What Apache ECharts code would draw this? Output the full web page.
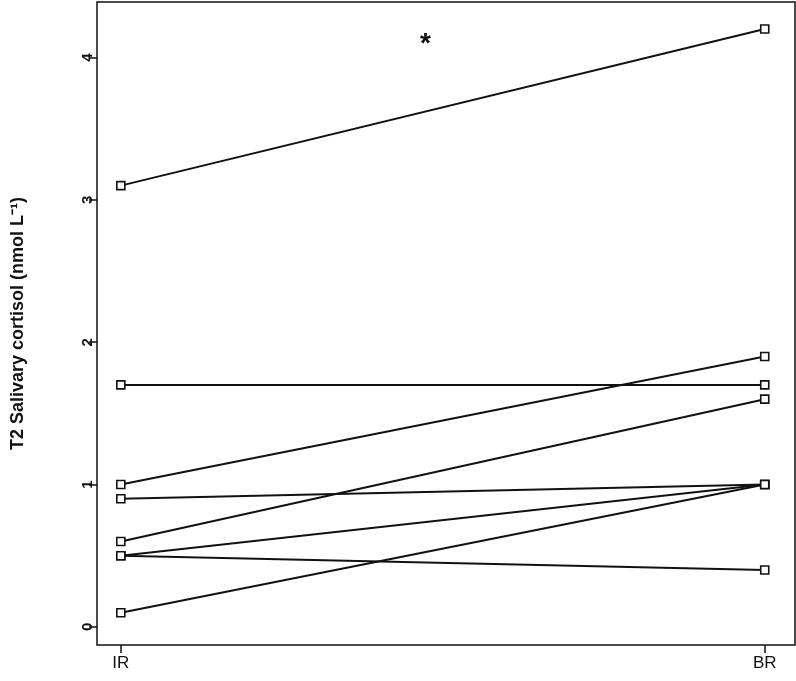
<!DOCTYPE html>
<html><head><meta charset="utf-8">
<script src="https://cdn.jsdelivr.net/npm/echarts@6/dist/echarts.min.js"></script>
<style>html,body{margin:0;padding:0;background:#fff}#c{width:796px;height:681px}</style>
</head><body><div id="c"></div>
<script>
const categories = ['IR', 'BR'];
const irValues = [3.1, 1.7, 1.0, 0.9, 0.6, 0.5, 0.5, 0.1];
const brValues = [4.2, 1.7, 1.9, 1.0, 1.6, 1.0, 0.4, 1.0];
const yTicks = [0, 1, 2, 3, 4];
const chart = echarts.init(document.getElementById('c'));
const font = 'Liberation Sans, Arial, sans-serif';
const series = irValues.map((v, i) => ({
  type: 'line', data: [[0, v], [1, brValues[i]]],
  symbol: 'rect', symbolSize: 8,
  itemStyle: { color: '#fff', borderColor: '#111', borderWidth: 1.6 },
  lineStyle: { color: '#111', width: 2 }, animation: false
}));
chart.setOption({
  animation: false,
  grid: { left: 97, right: 1, top: 2, bottom: 36, show: true, borderColor: '#111', borderWidth: 1.5 },
  xAxis: { type: 'value', min: -0.037, max: 1.047,
    axisLine: { show: false, onZero: false }, splitLine: { show: false },
    axisTick: { show: true, length: 8, customValues: [0, 1], lineStyle: { color: '#111', width: 1.5 } },
    axisLabel: { customValues: [0, 1], formatter: v => categories[Math.round(v)], color: '#111',
      fontFamily: font, fontSize: 17, margin: 10 } },
  yAxis: { type: 'value', min: -0.127, max: 4.39,
    name: 'T2 Salivary cortisol (nmol L\u207B\u00B9)', nameLocation: 'middle', nameGap: 70,
    nameTextStyle: { fontFamily: font, fontSize: 18, fontWeight: 'bold', color: '#111' },
    axisLine: { show: false, onZero: false }, splitLine: { show: false },
    axisTick: { show: true, length: 8, customValues: yTicks, lineStyle: { color: '#111', width: 1.5 } },
    axisLabel: { customValues: yTicks, rotate: 90, color: '#111', fontFamily: font, fontSize: 15, fontWeight: 'bold', margin: 2 } },
  graphic: [{ type: 'text', left: 420, top: 30, style: { text: '*', font: 'bold 28px ' + font, fill: '#111' } }],
  series
});
</script></body></html>
